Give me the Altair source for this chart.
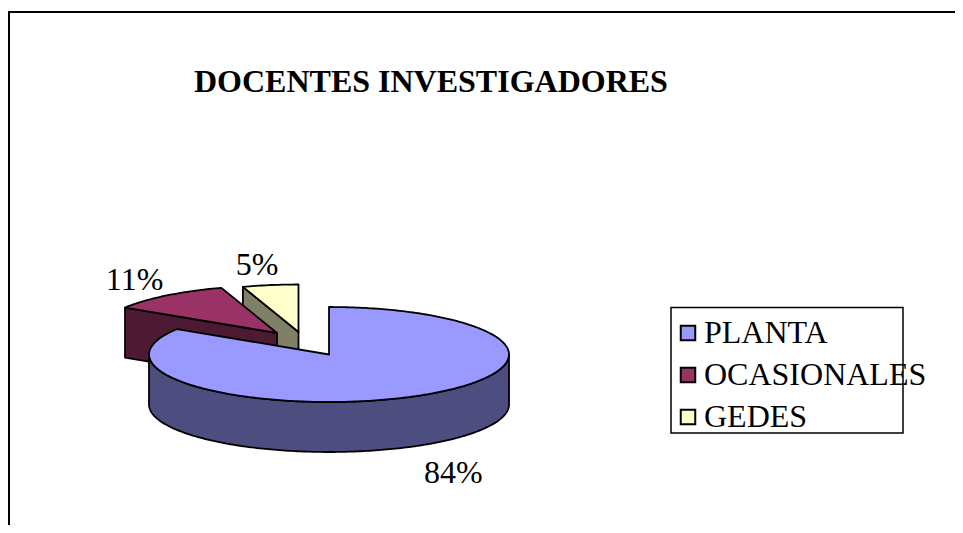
import numpy as np
import altair as alt

categories = ["PLANTA", "OCASIONALES", "GEDES"]
shares = [84, 11, 5]
top_colors = ["#9999FF", "#993366", "#FFFFCC"]
side_colors = ["#4D4D80", "#4D1A33", "#808066"]
chart_title = "DOCENTES INVESTIGADORES"

FONT = "Liberation Serif"
OFF = 8  # page margin
W, H = 947, 517
RX, RY, DEPTH = 180, 47.5, 50
centers = {"PLANTA": (329, 354.5), "OCASIONALES": (277, 333), "GEDES": (298.5, 332)}
label_nudge = {"PLANTA": (3, 59), "OCASIONALES": (12, 1), "GEDES": (-2, 0)}

def rim(c, a0, a1, dy=0.0):
    n = max(2, int(abs(a1 - a0) * 60))
    t = np.linspace(a0, a1, n)
    return [[float(c[0] - OFF + RX * np.sin(a)), float(c[1] - OFF - RY * np.cos(a) + dy)] for a in t]

def feature(name, ring):
    return {"type": "Feature", "properties": {"name": name},
            "geometry": {"type": "Polygon", "coordinates": [ring + [ring[0]]]}}

proj = dict(type="identity", scale=1, translate=[0, 0])
fractions = np.cumsum([0] + shares) / sum(shares) * 2 * np.pi

layers = []
labels = []
# background frame (top and left only, page-cut)
layers.append(alt.Chart({"values": [{}]}).mark_rule(color="black", strokeWidth=2).encode(
    x=alt.value(1), y=alt.value(4), y2=alt.value(H)))
layers.append(alt.Chart({"values": [{}]}).mark_rule(color="black", strokeWidth=2).encode(
    x=alt.value(0), x2=alt.value(W), y=alt.value(4)))
# legend frame
layers.append(alt.Chart({"values": [{}]}).mark_rect(fill="white", stroke="black", strokeWidth=1.5).encode(
    x=alt.value(663), x2=alt.value(895), y=alt.value(299.5), y2=alt.value(425)))

for i in [2, 1, 0]:
    name = categories[i]
    a0, a1 = fractions[i], fractions[i + 1]
    c = centers[name]
    cx, cy = c[0] - OFF, c[1] - OFF
    # sides
    sides = []
    if name == "PLANTA":
        top = rim(c, np.pi / 2, 3 * np.pi / 2)
        bot = rim(c, np.pi / 2, 3 * np.pi / 2, DEPTH)
        sides.append(feature(name, top + bot[::-1]))
    else:
        e = rim(c, a0, a0)[0]
        sides.append(feature(name, [[cx, cy], e, [e[0], e[1] + DEPTH], [cx, cy + DEPTH]]))
    layers.append(alt.Chart(alt.Data(values=sides)).mark_geoshape(
        fill=side_colors[i], stroke="black", strokeWidth=1.8, strokeJoin="round").project(**proj))
    # top
    ring = [[cx, cy]] + rim(c, a0, a1)
    layers.append(alt.Chart(alt.Data(values=[feature(name, ring)])).mark_geoshape(
        stroke="black", strokeWidth=1.8, strokeJoin="round").encode(
        color=alt.Color("properties.name:N",
                        scale=alt.Scale(domain=categories, range=top_colors),
                        legend=alt.Legend(
                            title=None, orient="none", legendX=660, legendY=305,
                            labelFont=FONT, labelFontSize=32, labelColor="black",
                            labelLimit=400, labelOffset=0, rowPadding=10,
                            symbolType="square", symbolSize=210,
                            symbolStrokeColor="black", symbolStrokeWidth=2,
                            padding=4))).project(**proj))
    mid = (a0 + a1) / 2
    nx, ny = label_nudge[name]
    labels.append({"text": f"{shares[i]}%",
                   "px": cx + 252 * np.sin(mid) + nx,
                   "py": cy - 68 * np.cos(mid) + ny})

label_layer = alt.Chart(alt.Data(values=[{k: (float(v) if k != "text" else v) for k, v in d.items()} for d in labels])).mark_text(
    font=FONT, fontSize=32, color="black", baseline="middle", align="center").encode(
    x=alt.X("px:Q", scale=None), y=alt.Y("py:Q", scale=None), text="text:N")
layers.append(label_layer)

chart = alt.layer(*layers).properties(
    width=W, height=H, padding=0,
    autosize=alt.AutoSizeParams(type="none"),
    title=alt.TitleParams(chart_title, font=FONT, fontSize=32, fontWeight="bold", color="black",
                          anchor="start", frame="group", dx=186, dy=116, offset=0, baseline="alphabetic"),
).configure_view(stroke=None)

chart.save("out.html", embed_options={"renderer": "svg", "actions": False})
